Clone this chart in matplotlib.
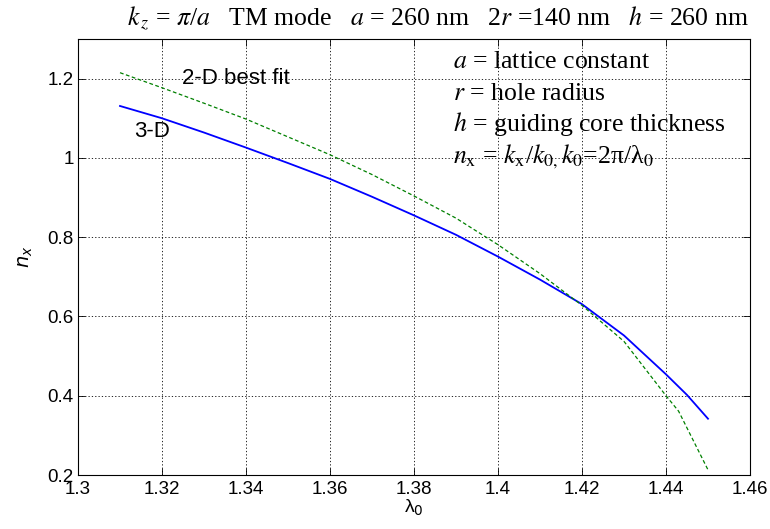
import numpy as np
import matplotlib
matplotlib.use("Agg")
import matplotlib.pyplot as plt

plt.rcParams['font.family'] = ['Liberation Sans', 'DejaVu Sans']

# wavelength (um) and effective index for the 3-D calculation
lam_3d = [1.31, 1.32, 1.33, 1.34, 1.35, 1.36, 1.37, 1.38, 1.39, 1.40,
          1.41, 1.42, 1.43, 1.44, 1.445, 1.45]
nx_3d = [1.131, 1.100, 1.064, 1.026, 0.987, 0.947, 0.902, 0.855, 0.806, 0.751,
         0.693, 0.631, 0.552, 0.454, 0.402, 0.342]

# 2-D effective-index fit
lam_2d = [1.31, 1.32, 1.33, 1.34, 1.35, 1.36, 1.37, 1.38, 1.39, 1.40,
          1.41, 1.42, 1.43, 1.44, 1.443, 1.45]
nx_2d = [1.215, 1.177, 1.138, 1.098, 1.053, 1.008, 0.958, 0.904, 0.848, 0.781,
         0.708, 0.628, 0.537, 0.400, 0.361, 0.213]

xticks = [1.3, 1.32, 1.34, 1.36, 1.38, 1.4, 1.42, 1.44, 1.46]
xticklabels = ['1.3', '1.32', '1.34', '1.36', '1.38', '1.4', '1.42', '1.44', '1.46']
yticks = [0.2, 0.4, 0.6, 0.8, 1.0, 1.2]
yticklabels = ['0.2', '0.4', '0.6', '0.8', '1', '1.2']

W, H = 770, 529
fig = plt.figure(figsize=(W / 100, H / 100), dpi=100)
ax = fig.add_axes([78 / W, 1 - 475 / H, 672 / W, 436 / H])

ax.plot(lam_3d, nx_3d, color='#0000ff', lw=1.3)
ax.plot(lam_2d, nx_2d, color='#008000', lw=0.9, ls=(0, (3, 2)))

ax.set_xlim(1.3, 1.46)
ax.set_ylim(0.2, 1.3)
ax.set_xticks(xticks)
ax.set_xticklabels(xticklabels)
ax.set_yticks(yticks)
ax.set_yticklabels(yticklabels)
ax.tick_params(direction='in', top=True, right=True, length=5, width=0.6,
               labelsize=13.5, pad=3)
ax.tick_params(axis='x', pad=4)
ax.grid(True, color='black', ls=(0, (1.5, 2.5)), lw=0.6)
for s in ax.spines.values():
    s.set_linewidth(0.8)

ax.set_xlabel('λ$_0$', fontsize=14, labelpad=0)
ax.set_ylabel('$n_x$', fontsize=14, labelpad=9, math_fontfamily='dejavusans')

ax.text(1.3248, 1.2, '2-D best fit', fontsize=16, va='center', ha='left')
ax.text(1.3133, 1.066, '3-D', fontsize=16, va='center', ha='left')

# title and parameter notes in a serif face
serif = ['Liberation Serif', 'DejaVu Serif']
fig.text(127 / W, 1 - 25 / H,
         r'$k_{\,z}$ = $\pi$/$a$   TM mode   $a$ = 260 nm   2$r$ =140 nm   $h$ = 260 nm',
         family=serif, fontsize=18.5, math_fontfamily='stix', ha='left', va='baseline')

notes = [r'$a$ = lattice constant',
         r'$r$ = hole radius',
         r'$h$ = guiding core thickness',
         r'$n_{\mathrm{x}}$ = $k_{\mathrm{x}}$/$k_{0,}$$k_0$=2π/λ$_0$']
for i, s in enumerate(notes):
    fig.text(453 / W, 1 - (68 + 31.5 * i) / H, s, family=serif, fontsize=18.5,
             math_fontfamily='stix', ha='left', va='baseline')

fig.savefig('out.png', dpi=100)
